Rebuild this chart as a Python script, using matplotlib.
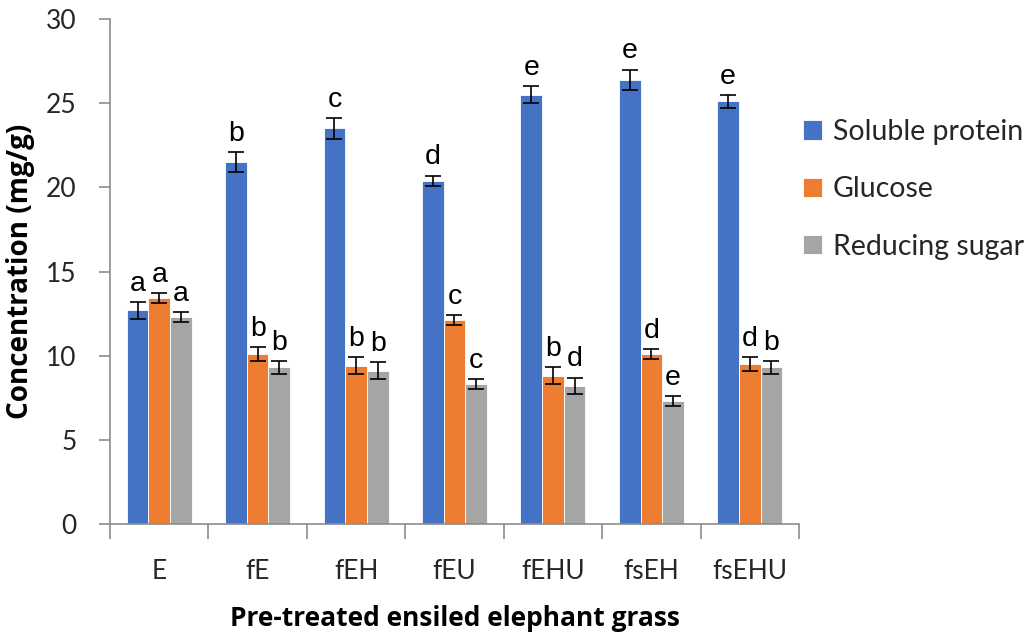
import matplotlib
matplotlib.use("Agg")
import matplotlib.pyplot as plt
import numpy as np
from matplotlib.ticker import FixedLocator, NullFormatter

# Treatments on the x axis
categories = ["E", "fE", "fEH", "fEU", "fEHU", "fsEH", "fsEHU"]

# Means (mg/g)
soluble_protein = [12.7, 21.5, 23.5, 20.4, 25.5, 26.4, 25.1]
glucose = [13.4, 10.1, 9.4, 12.1, 8.8, 10.1, 9.5]
reducing_sugar = [12.3, 9.3, 9.1, 8.3, 8.2, 7.3, 9.3]

# Standard errors
protein_err = [0.5, 0.6, 0.6, 0.3, 0.5, 0.6, 0.4]
glucose_err = [0.3, 0.4, 0.5, 0.3, 0.5, 0.3, 0.4]
sugar_err = [0.3, 0.4, 0.5, 0.3, 0.5, 0.3, 0.4]

# Significance letters
protein_letters = ["a", "b", "c", "d", "e", "e", "e"]
glucose_letters = ["a", "b", "b", "c", "b", "d", "d"]
sugar_letters = ["a", "b", "b", "c", "d", "e", "b"]

series_names = ["Soluble protein", "Glucose", "Reducing sugar"]
colors = ["#4472C4", "#ED7D31", "#A5A5A5"]

ui_font = "Lato"
title_font = "Open Sans"
axis_color = "#8C8C8C"

fig = plt.figure(figsize=(10.31, 6.32), dpi=100)
ax = fig.add_axes([110 / 1031, 1 - 524 / 632, (799 - 110) / 1031, (524 - 19) / 632])

x = np.arange(len(categories))
width = 0.22
offsets = [-width, 0.0, width]
values = [soluble_protein, glucose, reducing_sugar]
errors = [protein_err, glucose_err, sugar_err]
letters = [protein_letters, glucose_letters, sugar_letters]

for off, vals, errs, lets, col, name in zip(offsets, values, errors, letters, colors, series_names):
    ax.bar(x + off, vals, width, color=col, edgecolor="white", linewidth=0.6,
           label=name, zorder=2)
    ax.errorbar(x + off, vals, yerr=errs, fmt="none", ecolor="black",
                elinewidth=1.2, capsize=5.5, capthick=1.2, zorder=3)
    for xi, v, e, t in zip(x + off, vals, errs, lets):
        ax.annotate(t, (xi, v + e), xytext=(0, 8), textcoords="offset points",
                    ha="center", va="baseline", fontsize=20.5,
                    family="Liberation Sans", color="black")

ax.set_xlim(-0.5, len(categories) - 0.5)
ax.set_ylim(0, 30)
ax.set_yticks(np.arange(0, 31, 5))

for s in ["top", "right"]:
    ax.spines[s].set_visible(False)
for s in ["left", "bottom"]:
    ax.spines[s].set_color(axis_color)
    ax.spines[s].set_linewidth(1.2)

ax.set_xticks(x)
ax.set_xticklabels(categories)
ax.xaxis.set_minor_locator(FixedLocator(np.arange(-0.5, len(categories), 1.0)))
ax.xaxis.set_minor_formatter(NullFormatter())
ax.tick_params(axis="x", which="major", length=0, pad=25)
ax.tick_params(axis="x", which="minor", length=11, width=1.2, color=axis_color)
ax.tick_params(axis="y", which="major", length=8, width=1.2, color=axis_color, pad=16)

for lab in ax.get_xticklabels() + ax.get_yticklabels():
    lab.set_family(ui_font)
    lab.set_fontsize(19)
    lab.set_color("#262626")

ax.set_ylabel("Concentration (mg/g)", family=title_font, fontweight="bold",
              fontsize=20, color="black", labelpad=8)
ax.set_xlabel("Pre-treated ensiled elephant grass", family=title_font,
              fontweight="bold", fontsize=19, color="black", labelpad=15)

leg = fig.legend(loc="upper left", bbox_to_anchor=(803 / 1031, 1 - 119 / 632),
                 frameon=False, prop={"family": ui_font, "size": 20.5},
                 handlelength=0.65, handleheight=0.65, handletextpad=0.4,
                 labelspacing=1.1, borderpad=0, borderaxespad=0)
for t in leg.get_texts():
    t.set_color("#262626")

fig.savefig("out.png", dpi=100)
